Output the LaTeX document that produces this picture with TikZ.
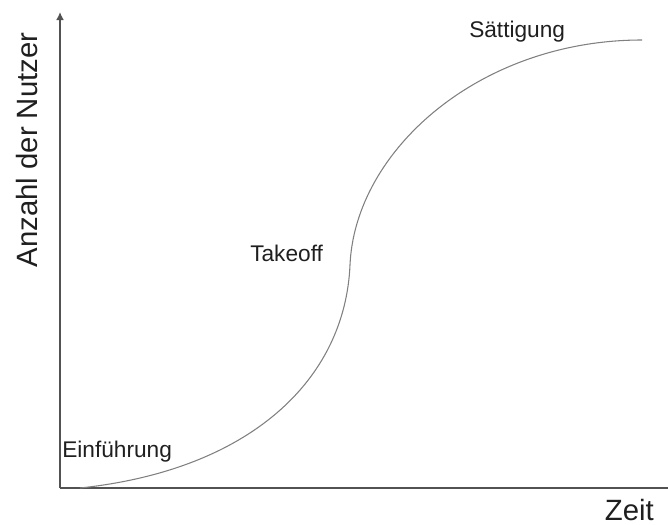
\documentclass[tikz,border=0pt]{standalone}
\usepackage{fontspec}
\usetikzlibrary{arrows.meta}
\setmainfont{Liberation Sans}
\begin{document}
\begin{tikzpicture}[x=0.75pt,y=-0.75pt,
  axisline/.style={draw=black!68,line width=1.5pt},
  growth/.style={draw=black!50,line width=0.8pt},
  phase/.style={font=\fontsize{17}{20}\selectfont,text=black!88,inner sep=0pt,anchor=base west},
  axislabel/.style={font=\fontsize{22}{26}\selectfont,text=black!88,inner sep=0pt}]
  \useasboundingbox (0,0) rectangle (668,525);
  % axes
  \coordinate (origin) at (60,488);
  \coordinate (ytop) at (60,12);
  \coordinate (xend) at (668,488);
  \draw[axisline,-{Latex[length=6pt,width=6pt]}] (origin) -- (ytop);
  \draw[axisline] (origin) -- (xend);
  % S-shaped adoption curve
  \coordinate (start) at (80,488);
  \coordinate (takeoffpt) at (350,265);
  \coordinate (sat) at (642,40);
  \draw[growth] (start) .. controls (250,470) and (345,380) .. (takeoffpt)
                        .. controls (355,150) and (480,40) .. (sat);
  % labels
  \node[phase] (einf) at (62,457) {Einführung};
  \node[phase] (take) at (250,261) {Takeoff};
  \node[phase] (saett) at (469,37) {Sättigung};
  \node[axislabel,anchor=base east] (zeit) at (654,520) {Zeit};
  \node[axislabel,rotate=90,anchor=base] (nutzer) at (37,150) {Anzahl der Nutzer};
\end{tikzpicture}
\end{document}
